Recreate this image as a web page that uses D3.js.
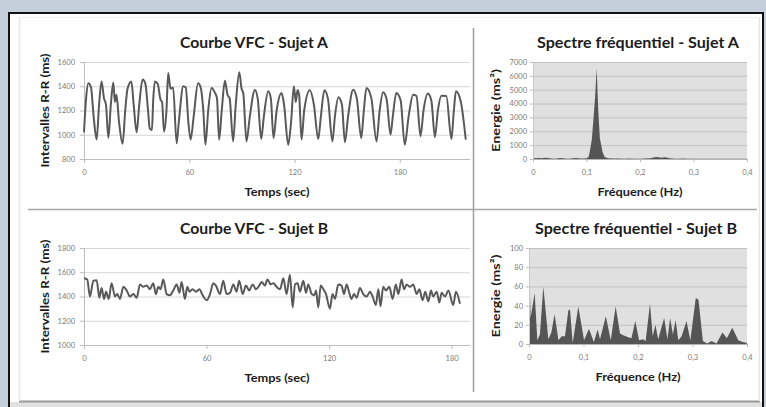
<!DOCTYPE html>
<html><head><meta charset="utf-8">
<script src="https://cdn.jsdelivr.net/npm/d3@7"></script>
<style>html,body{margin:0;padding:0;background:#c5cedb;}svg{display:block}</style>
</head><body>
<svg id="c" width="766" height="407"></svg>
<script>
// ---------------- DATA ----------------
const titleA = "Courbe VFC - Sujet A";
const titleB = "Courbe VFC - Sujet B";
const titleSpecA = "Spectre fréquentiel - Sujet A";
const titleSpecB = "Spectre fréquentiel - Sujet B";
const xTitleTime = "Temps (sec)";
const yTitleRR = "Intervalles R-R (ms)";
const xTitleFreq = "Fréquence (Hz)";
const yTitleEnergy = "Energie (ms²)";

const timeTicks = [0, 60, 120, 180];
const rrTicksA = [800, 1000, 1200, 1400, 1600];
const rrTicksB = [1000, 1200, 1400, 1600, 1800];
const freqTicks = [0, 0.1, 0.2, 0.3, 0.4];
const energyTicksA = [0, 1000, 2000, 3000, 4000, 5000, 6000, 7000];
const energyTicksB = [0, 20, 40, 60, 80, 100];
const timeMaxA = 220;
const timeMaxB = 189;

const timeA = [0,1.2,2.5,4,5.5,7.2,8.6,10,11.4,12.5,
  13.9,15.3,16.7,17.6,18.5,20,22,23.5,24.8,27,
  28.3,30,31.5,33.4,35,36.5,37.5,38.7,39.5,40.4,
  42,43.6,44.5,45.6,47,48,49.3,50.8,52.8,54,
  56.6,58,59.5,60.8,62.5,65,66.5,68,69.2,70.8,
  72.7,74.5,75.8,77,78.5,80.3,81.8,83,85,86.5,
  88.5,89.8,90.8,92.6,94.5,97.4,99,101,102.5,105,
  106.5,108,109.8,112.6,114,116.4,118,119.6,120.7,121.7,
  122.6,124,125.5,128.7,131,133.5,135,137,139,141.6,
  143,145,147,148.7,150.5,153.4,155.5,158,159.5,161,
  163.8,166.7,168.5,170.5,172.5,174.7,176,178,180.5,182.8,
  185,187.6,189.5,191.8,193.5,196,198,200,201.7,203.7,
  206.5,209.4,210.8,212,214.8,216.5,217.6];
const rrA = [1020,1300,1425,1390,1150,960,1250,1440,1300,1250,
  975,1250,1430,1270,1330,1100,925,1200,1380,1440,
  1250,1020,1250,1455,1420,1200,1050,1040,1300,1440,
  1420,1290,1270,1025,1200,1510,1380,1390,930,1100,
  1400,1390,1100,960,1150,1425,1390,1200,918,1200,
  1385,1350,1300,960,1200,1445,1330,1300,945,1250,
  1515,1380,1340,945,1150,1370,1300,965,1150,1358,
  1300,973,1200,1344,1250,918,1100,1400,1270,1370,
  1330,960,1200,1366,1250,965,1150,1366,1300,945,
  1150,1310,1250,938,1150,1372,1300,973,1200,1385,
  1300,945,1200,1350,1290,1000,1150,1344,1280,918,
  1150,1330,1320,987,1200,1340,1280,980,1200,1322,
  1320,965,1200,1358,1270,1100,960];

const timeB = [0,1.6,2.9,4.6,6.2,7.5,8.6,9.8,10.8,12.1,
  13.5,15.2,16.3,17.6,19.3,20.9,22.5,24.2,25.8,27.4,
  29.0,30.7,32.3,33.9,35.2,36.4,37.5,38.8,40.5,42.1,
  43.7,45.4,46.7,47.8,49.4,50.6,51.6,53.2,54.8,56.5,
  58.1,60.1,61.7,63.3,64.6,66.6,68.2,69.8,71.5,73.1,
  74.7,76.0,77.7,79.3,80.9,82.6,84.2,85.8,87.0,88.6,
  89.8,91.4,92.7,94.3,96.0,97.6,99.2,100.8,102.2,103.3,
  104.6,105.7,107.4,108.7,109.8,111.5,112.8,113.6,114.7,115.9,
  117.2,118.5,120.4,121.7,122.9,124.5,126.1,127.3,128.6,129.9,
  131.0,132.2,133.5,135.1,136.7,138.4,140.0,141.3,142.9,144.1,
  145.2,146.5,147.8,149.5,151.1,152.7,153.9,155.5,156.7,158.0,
  159.6,161.2,162.9,164.2,165.8,167.1,168.6,169.9,171.0,172.7,
  174.0,175.1,176.8,178.4,180.8,182.1,184.1];
const rrB = [1550,1540,1400,1530,1535,1390,1470,1380,1440,1380,
  1510,1400,1420,1380,1480,1450,1400,1420,1390,1500,
  1480,1490,1460,1510,1420,1480,1460,1540,1420,1410,
  1450,1500,1430,1520,1380,1480,1440,1460,1440,1460,
  1410,1370,1420,1510,1490,1420,1530,1420,1430,1500,
  1440,1530,1420,1490,1450,1500,1460,1490,1520,1490,
  1540,1500,1510,1480,1460,1550,1420,1580,1310,1500,
  1510,1440,1530,1430,1500,1420,1410,1450,1310,1490,
  1460,1420,1300,1420,1380,1500,1490,1420,1500,1430,
  1380,1420,1390,1470,1420,1400,1440,1400,1330,1460,
  1320,1480,1450,1480,1380,1500,1420,1540,1460,1500,
  1480,1500,1420,1460,1370,1440,1360,1450,1400,1440,
  1350,1430,1400,1450,1330,1440,1340];

const freqA = [0,0.005,0.01,0.015,0.02,0.025,0.03,0.035,0.04,0.045,0.05,0.055,0.06,0.065,0.07,0.075,0.08,0.085,0.09,0.095,0.1,
  0.104,0.106,0.11,0.116,0.119,0.122,0.125,0.13,0.134,
  0.14,0.15,0.16,0.17,0.18,0.19,0.2,0.21,0.22,
  0.225,0.23,0.235,0.24,0.245,0.25,0.255,0.26,
  0.27,0.28,0.29,0.3,0.31,0.32,0.33,0.34,0.35,0.36,0.37,0.38,0.39,0.4];
const energyA = [90,60,80,50,70,90,60,30,20,40,70,60,30,20,30,60,70,50,40,30,60,
  150,530,1400,4400,6550,3500,1500,500,150,
  60,40,30,20,30,25,20,30,60,
  100,150,120,90,130,110,50,30,
  20,30,20,15,20,15,10,15,20,15,10,15,10,10];

const freqB = [0,0.003,0.0104,0.0153,0.02,0.0263,0.0355,0.041,0.047,0.054,0.06,0.066,0.0722,0.0752,0.0801,0.0905,0.101,0.11,0.119,0.126,0.1303,
  0.141,0.15,0.159,0.167,0.173,0.182,0.188,0.195,0.202,0.209,0.214,0.222,0.227,0.232,0.237,0.248,0.254,0.259,0.264,0.269,0.274,0.28,0.289,0.296,
  0.306,0.311,0.319,0.327,0.335,0.344,0.355,0.363,0.373,0.384,0.392,0.4];
const energyB = [90,27,53,4,10,60,5,12,31,4,8,8,35,36,1,39,4,16,2,15,5,
  29,4,39,11,9,7,6,24,4,5,3,42,8,20,5,27,5,27,10,25,4,8,24,4,
  48,46,3,0.5,3,0.5,12,6,17,4,2,1];

// ---------------- DRAW ----------------
const svg = d3.select('#c');
const FONT = "Lato, 'Open Sans', sans-serif";

svg.append('rect').attr('width', 766).attr('height', 407).attr('fill', '#c5cedb');
svg.append('rect').attr('x', 9).attr('y', 13).attr('width', 754).attr('height', 400)
  .attr('fill', '#ffffff').attr('stroke', '#111').attr('stroke-width', 2);
svg.append('rect').attr('x', 10).attr('y', 402).attr('width', 752).attr('height', 6).attr('fill', '#e1e1e1');
svg.append('line').attr('x1', 19).attr('x2', 760).attr('y1', 401.5).attr('y2', 401.5)
  .attr('stroke', '#9a9a9a').attr('stroke-width', 2);
svg.append('line').attr('x1', 19.5).attr('x2', 19.5).attr('y1', 17).attr('y2', 401)
  .attr('stroke', '#e8e8e8').attr('stroke-width', 1.5);
svg.append('line').attr('x1', 19.5).attr('x2', 760).attr('y1', 17.5).attr('y2', 17.5)
  .attr('stroke', '#f0f0f0').attr('stroke-width', 1);
svg.append('line').attr('x1', 759.5).attr('x2', 759.5).attr('y1', 17).attr('y2', 401)
  .attr('stroke', '#e4e4e4').attr('stroke-width', 1.5);
// dividers
svg.append('line').attr('x1', 473.5).attr('x2', 473.5).attr('y1', 28).attr('y2', 392)
  .attr('stroke', '#9d9d9d').attr('stroke-width', 1.5);
svg.append('line').attr('x1', 28).attr('x2', 757).attr('y1', 209.5).attr('y2', 209.5)
  .attr('stroke', '#a8a8a8').attr('stroke-width', 1.5);

function label(g, txt, x, y, size, len, rotate) {
  const t = g.append('text').text(txt)
    .attr('font-family', FONT).attr('font-weight', 700).attr('font-size', size)
    .attr('fill', '#1c1c1c').attr('text-anchor', 'middle')
    .attr('textLength', len).attr('lengthAdjust', 'spacingAndGlyphs');
  if (rotate) t.attr('transform', `translate(${x},${y}) rotate(-90)`);
  else t.attr('x', x).attr('y', y);
}

function styleAxis(a) {
  a.select('.domain').remove();
  a.selectAll('line').attr('stroke', '#bdbdbd');
  a.selectAll('text').attr('font-family', FONT).attr('font-size', 7.5).attr('fill', '#7a7a7a');
}

const plain = d => String(d);

function vfc(c) {
  const g = svg.append('g');
  const x = d3.scaleLinear().domain([0, c.xMax]).range([c.left, c.right]);
  const y = d3.scaleLinear().domain([c.yTicks[0], c.yTicks[c.yTicks.length - 1]]).range([c.bottom, c.top]);
  g.selectAll('.grid').data(c.yTicks.slice(1)).join('line')
    .attr('x1', c.left).attr('x2', c.right).attr('y1', d => y(d) + 0.5).attr('y2', d => y(d) + 0.5)
    .attr('stroke', '#d6d6d6').attr('stroke-width', 1);
  g.append('line').attr('x1', c.left).attr('x2', c.right).attr('y1', y(c.yTicks[0]) + 0.5).attr('y2', y(c.yTicks[0]) + 0.5)
    .attr('stroke', '#bdbdbd');
  g.append('line').attr('x1', c.left + 0.5).attr('x2', c.left + 0.5).attr('y1', c.top).attr('y2', c.bottom)
    .attr('stroke', '#bdbdbd');
  g.append('g').attr('transform', `translate(${c.left},0)`)
    .call(d3.axisLeft(y).tickValues(c.yTicks).tickFormat(plain).tickSize(4).tickPadding(5)).call(styleAxis);
  g.append('g').attr('transform', `translate(0,${c.bottom})`)
    .call(d3.axisBottom(x).tickValues(c.xTicks).tickFormat(plain).tickSize(4).tickPadding(7)).call(styleAxis);
  const pts = c.t.map((t, i) => [t, c.v[i]]);
  g.append('path').datum(pts)
    .attr('d', d3.line().x(d => x(d[0])).y(d => y(d[1])).curve(d3.curveMonotoneX))
    .attr('fill', 'none').attr('stroke', '#595959').attr('stroke-width', 2).attr('stroke-linejoin', 'round');
  label(g, c.title, 254, c.top - 14, 16, 148);
  label(g, xTitleTime, (c.left + c.right) / 2, c.bottom + 37, 12, 65);
  label(g, yTitleRR, 49, (c.top + c.bottom) / 2, 12, 114, true);
}

function spec(c) {
  const g = svg.append('g');
  const x = d3.scaleLinear().domain([freqTicks[0], freqTicks[freqTicks.length - 1]]).range([c.left, c.right]);
  const y = d3.scaleLinear().domain([c.yTicks[0], c.yTicks[c.yTicks.length - 1]]).range([c.bottom, c.top]);
  g.append('rect').attr('x', c.left).attr('y', c.top).attr('width', c.right - c.left).attr('height', c.bottom - c.top)
    .attr('fill', '#e0e0e0');
  g.selectAll('.grid').data(c.yTicks.slice(1)).join('line')
    .attr('x1', c.left).attr('x2', c.right).attr('y1', d => y(d) + 0.5).attr('y2', d => y(d) + 0.5)
    .attr('stroke', '#c2c2c2').attr('stroke-width', 1);
  const pts = c.f.map((f, i) => [f, c.e[i]]);
  g.append('path').datum(pts)
    .attr('d', d3.area().x(d => x(d[0])).y0(y(0)).y1(d => y(d[1])))
    .attr('fill', '#555555');
  g.append('line').attr('x1', c.left).attr('x2', c.right).attr('y1', c.bottom + 0.5).attr('y2', c.bottom + 0.5)
    .attr('stroke', '#b5b5b5');
  g.append('line').attr('x1', c.left + 0.5).attr('x2', c.left + 0.5).attr('y1', c.top).attr('y2', c.bottom)
    .attr('stroke', '#c8c8c8');
  g.append('g').attr('transform', `translate(${c.left},0)`)
    .call(d3.axisLeft(y).tickValues(c.yTicks).tickFormat(plain).tickSize(3).tickPadding(3)).call(styleAxis);
  g.append('g').attr('transform', `translate(0,${c.bottom})`)
    .call(d3.axisBottom(x).tickValues(freqTicks).tickSize(3).tickPadding(8)
      .tickFormat(d => String(d).replace('.', ','))).call(styleAxis);
  label(g, c.title, c.titleX, c.top - 14, 16, 202);
  label(g, xTitleFreq, (c.left + c.right) / 2, c.bottom + 37, 12, 85);
  label(g, yTitleEnergy, 500, (c.top + c.bottom) / 2, 12, 83, true);
}

vfc({left: 84, right: 470, top: 62, bottom: 159, xMax: timeMaxA, xTicks: timeTicks, yTicks: rrTicksA, t: timeA, v: rrA, title: titleA});
vfc({left: 84, right: 470, top: 248, bottom: 345, xMax: timeMaxB, xTicks: timeTicks, yTicks: rrTicksB, t: timeB, v: rrB, title: titleB});
spec({left: 533, right: 747, top: 62, bottom: 159, yTicks: energyTicksA, f: freqA, e: energyA, title: titleSpecA, titleX: 638});
spec({left: 529, right: 747, top: 248, bottom: 344, yTicks: energyTicksB, f: freqB, e: energyB, title: titleSpecB, titleX: 636});
</script>
</body></html>
